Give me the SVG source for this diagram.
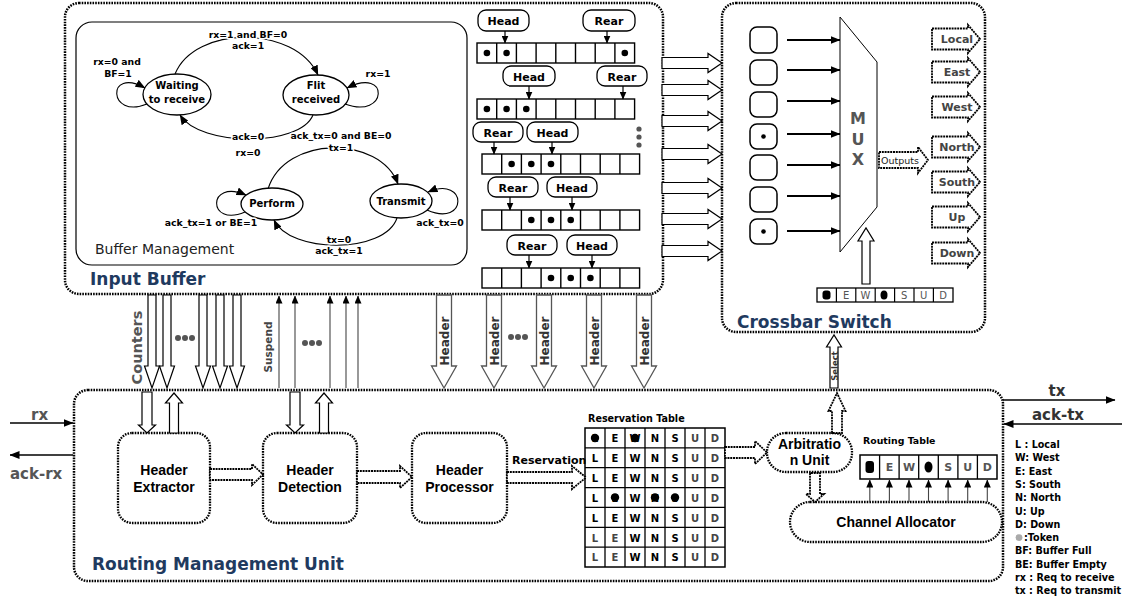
<svg xmlns="http://www.w3.org/2000/svg" width="1131" height="602" viewBox="0 0 1131 602">
<defs>
<style>
text{font-family:"DejaVu Sans","Liberation Sans",sans-serif}
.dot{fill:none;stroke:#000;stroke-width:2.5;stroke-dasharray:1.6 1.1}
.dbox{fill:#fff;stroke:#000;stroke-width:2.3;stroke-dasharray:1.6 1.1}
.harr{fill:#fff;stroke:#000;stroke-width:1.2}
.garr{fill:#fff;stroke:#555;stroke-width:1.3}
.darr{fill:#fff;stroke:#000;stroke-width:1.8;stroke-dasharray:2 0.8}
.ln{fill:none;stroke:#000;stroke-width:1.2}
.gl{fill:none;stroke:#444;stroke-width:1.1}
.title{font-weight:bold;font-size:17px;fill:#1f3a5f}
.sl{font-weight:bold;font-size:9.3px;fill:#000;text-anchor:middle;stroke:#fff;stroke-width:3;paint-order:stroke;stroke-linejoin:round}
.st{font-weight:bold;font-size:10px;text-anchor:middle}
.bx{font-family:"Liberation Sans",Arial,sans-serif;font-weight:bold;font-size:14px;text-anchor:middle}
.hr{font-family:"Liberation Sans",Arial,sans-serif;font-weight:bold;font-size:11px;text-anchor:middle}
.outl{font-weight:bold;font-size:11px;fill:#444;text-anchor:middle}
.leg{font-weight:bold;font-size:9.6px}
.tb{font-weight:bold;font-size:10px;text-anchor:middle;fill:#000}
.lt{fill:#444}
.gd{fill:#555}
</style>
<marker id="ah" markerUnits="userSpaceOnUse" viewBox="0 0 10 8" markerWidth="10" markerHeight="8" refX="9.5" refY="4" orient="auto"><path d="M0,0L10,4L0,8Z"/></marker>
<marker id="ahs" markerUnits="userSpaceOnUse" viewBox="0 0 8 7" markerWidth="8" markerHeight="7" refX="7.5" refY="3.5" orient="auto"><path d="M0,0L8,3.5L0,7Z"/></marker>
<path id="ibx" class="harr" d="M0,-5.5 H46 V-9.5 L60,0 L46,9.5 V5.5 H0 Z"/>
<path id="cnt" class="harr" d="M-4,0 V71 H-7.5 L0,93 L7.5,71 H4 V0 Z"/>
<path id="hdr" class="garr" d="M-7.5,0 V71 H-12.5 L0,93 L12.5,71 H7.5 V0 Z"/>
<path id="outA" class="darr" d="M0,-10.5 H36 V-14 L48,0 L36,14 V10.5 H0 Z"/>
</defs>
<rect width="1131" height="602" fill="#fff"/>

<!-- Input Buffer -->
<g id="input-buffer">
<rect class="dot" x="65" y="3" width="598" height="291" rx="14"/>
<text class="title" x="90" y="285">Input Buffer</text>
</g>

<!-- Buffer management state machine -->
<g id="buffer-management">
<rect x="76" y="22" width="391" height="243" rx="16" fill="#fff" stroke="#000" stroke-width="1.2"/>
<text x="95" y="254" font-size="14" fill="#222">Buffer Management</text>
<g id="fsm-connectors" fill="none" stroke="#000" stroke-width="1.1">
<path d="M175,74 C195,25 295,25 318,75" marker-end="url(#ah)"/>
<path d="M313,115 C300,147 200,147 180,115" marker-end="url(#ah)"/>
<path d="M268,189 C285,135 380,135 398,184" marker-end="url(#ah)"/>
<path d="M397,218 C385,254 290,254 274,220" marker-end="url(#ah)"/>
<path d="M147,104 C108,120 106,66 145,88" marker-end="url(#ah)"/>
<path d="M345,104 C388,120 390,66 347,88" marker-end="url(#ah)"/>
<path d="M245,212 C207,228 207,178 246,195" marker-end="url(#ah)"/>
<path d="M427,210 C468,228 468,175 428,192" marker-end="url(#ah)"/>
</g>
<g id="state-waiting"><ellipse cx="177" cy="94.5" rx="34" ry="20.5" fill="#fff" stroke="#000" stroke-width="1.3"/><text class="st" x="177" y="89">Waiting</text><text class="st" x="177" y="103">to receive</text></g>
<g id="state-flit"><ellipse cx="316" cy="95" rx="33" ry="20" fill="#fff" stroke="#000" stroke-width="1.3"/><text class="st" x="316" y="89">Flit</text><text class="st" x="316" y="103">received</text></g>
<g id="state-perform"><ellipse cx="272" cy="204" rx="31" ry="16" fill="#fff" stroke="#000" stroke-width="1.3"/><text class="st" x="272" y="207">Perform</text></g>
<g id="state-transmit"><ellipse cx="401" cy="201" rx="31" ry="17" fill="#fff" stroke="#000" stroke-width="1.3"/><text class="st" x="401" y="205">Transmit</text></g>
<text class="sl" x="248" y="38">rx=1 and BF=0</text>
<text class="sl" x="248" y="49">ack=1</text>
<text class="sl" x="117" y="65">rx=0 and</text>
<text class="sl" x="118" y="77">BF=1</text>
<text class="sl" x="378" y="77">rx=1</text>
<text class="sl" x="248" y="140">ack=0</text>
<text class="sl" x="248" y="156">rx=0</text>
<text class="sl" x="341" y="139">ack_tx=0 and BE=0</text>
<text class="sl" x="341" y="151">tx=1</text>
<text class="sl" x="211" y="226">ack_tx=1 or BE=1</text>
<text class="sl" x="440" y="226">ack_tx=0</text>
<text class="sl" x="339" y="243">tx=0</text>
<text class="sl" x="339" y="254">ack_tx=1</text>
</g>

<!-- FIFO buffers -->
<g id="fifo-buffers">
<g fill="#fff" stroke="#000" stroke-width="1.4">
<rect x="477" y="43" width="157.6" height="20"/>
<rect x="477" y="99" width="157.6" height="20"/>
<rect x="482" y="154" width="157.6" height="20"/>
<rect x="482" y="210" width="157.6" height="20"/>
<rect x="482" y="268" width="157.6" height="20"/>
<path fill="none" d="M496.7,43v20M516.4,43v20M536.1,43v20M555.8,43v20M575.5,43v20M595.2,43v20M614.9,43v20 M496.7,99v20M516.4,99v20M536.1,99v20M555.8,99v20M575.5,99v20M595.2,99v20M614.9,99v20 M501.7,154v20M521.4,154v20M541.1,154v20M560.8,154v20M580.5,154v20M600.2,154v20M619.9,154v20 M501.7,210v20M521.4,210v20M541.1,210v20M560.8,210v20M580.5,210v20M600.2,210v20M619.9,210v20 M501.7,268v20M521.4,268v20M541.1,268v20M560.8,268v20M580.5,268v20M600.2,268v20M619.9,268v20"/>
</g>
<g fill="#000">
<circle cx="486.9" cy="53" r="3.3"/><circle cx="506.6" cy="53" r="3.3"/><circle cx="624.8" cy="53" r="3.3"/>
<circle cx="486.9" cy="109" r="3.3"/><circle cx="506.6" cy="109" r="3.3"/><circle cx="526.3" cy="109" r="3.3"/>
<circle cx="511.6" cy="164" r="3.3"/><circle cx="531.3" cy="164" r="3.3"/><circle cx="551" cy="164" r="3.3"/>
<circle cx="531.3" cy="220" r="3.3"/><circle cx="551" cy="220" r="3.3"/><circle cx="570.7" cy="220" r="3.3"/>
<circle cx="551" cy="278" r="3.3"/><circle cx="570.7" cy="278" r="3.3"/><circle cx="590.4" cy="278" r="3.3"/>
</g>
<g class="gd"><circle cx="639" cy="129" r="2.6"/><circle cx="639" cy="137" r="2.6"/><circle cx="639" cy="145" r="2.6"/></g>
<g fill="#fff" stroke="#000" stroke-width="1.3">
<rect x="478" y="10" width="51" height="21" rx="8"/><rect x="583" y="10" width="52" height="21" rx="8"/>
<rect x="503" y="66" width="52" height="20" rx="8"/><rect x="597" y="66" width="50" height="20" rx="8"/>
<rect x="473" y="122" width="50" height="20" rx="8"/><rect x="527" y="122" width="51" height="20" rx="8"/>
<rect x="488" y="177" width="50" height="20" rx="8"/><rect x="547" y="177" width="50" height="20" rx="8"/>
<rect x="507" y="235" width="50" height="20" rx="8"/><rect x="567" y="235" width="50" height="20" rx="8"/>
</g>
<g class="hr">
<text x="503.5" y="25">Head</text><text x="609" y="25">Rear</text>
<text x="529" y="80.5">Head</text><text x="622" y="80.5">Rear</text>
<text x="498" y="136.5">Rear</text><text x="552.5" y="136.5">Head</text>
<text x="513" y="191.5">Rear</text><text x="572" y="191.5">Head</text>
<text x="532" y="249.5">Rear</text><text x="592" y="249.5">Head</text>
</g>
<g stroke="#000" stroke-width="1.2" marker-end="url(#ahs)">
<line x1="505" y1="31" x2="505" y2="43"/><line x1="607" y1="31" x2="607" y2="43"/>
<line x1="529" y1="86" x2="529" y2="99"/><line x1="623" y1="86" x2="623" y2="99"/>
<line x1="494" y1="142" x2="494" y2="154"/><line x1="552" y1="142" x2="552" y2="154"/>
<line x1="510" y1="197" x2="510" y2="210"/><line x1="572" y1="197" x2="572" y2="210"/>
<line x1="529" y1="255" x2="529" y2="268"/><line x1="592" y1="255" x2="592" y2="268"/>
</g>
</g>

<!-- Crossbar switch -->
<g id="crossbar-switch">
<rect class="dot" x="722" y="3" width="263" height="329" rx="14"/>
<text class="title" x="737" y="328">Crossbar Switch</text>
<g fill="#fff" stroke="#000" stroke-width="1.5">
<rect x="750" y="27" width="27" height="26" rx="7"/>
<rect x="750" y="60" width="27" height="25" rx="7"/>
<rect x="750" y="92" width="27" height="25" rx="7"/>
<rect x="750" y="124" width="27" height="25" rx="7"/>
<rect x="750" y="155" width="27" height="25" rx="7"/>
<rect x="750" y="187" width="27" height="25" rx="7"/>
<rect x="750" y="219" width="27" height="25" rx="7"/>
</g>
<circle cx="763.5" cy="136.5" r="2.3"/><circle cx="763.5" cy="231.5" r="2.3"/>
<g stroke="#000" stroke-width="1.8" marker-end="url(#ah)">
<line x1="787" y1="40" x2="840" y2="40"/><line x1="787" y1="70" x2="840" y2="70"/>
<line x1="787" y1="101" x2="840" y2="101"/><line x1="787" y1="134" x2="840" y2="134"/>
<line x1="787" y1="165" x2="840" y2="165"/><line x1="787" y1="196" x2="840" y2="196"/>
<line x1="787" y1="231" x2="840" y2="231"/>
</g>
<polygon points="840,17 877,62 877,207 840,252" fill="#fff" stroke="#000" stroke-width="1"/>
<g font-weight="bold" font-size="16" fill="#555" text-anchor="middle"><text x="858" y="124">M</text><text x="858" y="145">U</text><text x="858" y="165">X</text></g>
<path class="darr" stroke-width="1.3" d="M879,152 H918 V147 L928,160 L918,173 V168 H879 Z"/>
<text x="881" y="164" font-size="9.5" fill="#222">Outputs</text>
<use href="#outA" x="932" y="39"/><use href="#outA" x="932" y="72"/><use href="#outA" x="932" y="107"/>
<use href="#outA" x="932" y="147"/><use href="#outA" x="932" y="182"/><use href="#outA" x="932" y="217"/>
<use href="#outA" x="932" y="253"/>
<g class="outl">
<text x="957" y="43">Local</text><text x="957" y="76">East</text><text x="957" y="111">West</text>
<text x="957" y="151">North</text><text x="957" y="186">South</text><text x="957" y="221">Up</text>
<text x="957" y="257">Down</text>
</g>
<path class="harr" d="M862,284 V241 H858 L866,228 L874,241 H870 V284 Z"/>
<g id="select-register">
<rect x="817" y="288" width="136" height="14" fill="#fff" stroke="#000" stroke-width="1.3"/>
<path stroke="#000" stroke-width="1.2" d="M836.4,288v14M855.8,288v14M875.2,288v14M894.6,288v14M914,288v14M933.4,288v14"/>
<rect x="822.5" y="290.5" width="8" height="9" rx="3"/>
<ellipse cx="884" cy="295" rx="3.5" ry="4.5"/>
<g font-size="10" fill="#555" text-anchor="middle"><text x="846.1" y="299">E</text><text x="865.5" y="299">W</text><text x="904.3" y="299">S</text><text x="923.7" y="299">U</text><text x="943.1" y="299">D</text></g>
</g>
</g>

<!-- Routing Management Unit -->
<g id="routing-management-unit">
<rect class="dot" x="74" y="390" width="929" height="191" rx="14"/>
<text class="title" x="92" y="570">Routing Management Unit</text>
</g>

<g id="header-extractor"><rect class="dbox" x="118" y="433" width="92" height="90" rx="14"/><text class="bx" x="164" y="475">Header</text><text class="bx" x="164" y="492">Extractor</text></g>
<g id="header-detection"><rect class="dbox" x="263" y="433" width="94" height="90" rx="14"/><text class="bx" x="310" y="475">Header</text><text class="bx" x="310" y="492">Detection</text></g>
<g id="header-processor"><rect class="dbox" x="412" y="433" width="95" height="90" rx="14"/><text class="bx" x="459.5" y="475">Header</text><text class="bx" x="459.5" y="492">Processor</text></g>

<g id="reservation-table">
<text x="588" y="422" font-weight="bold" font-size="9.6">Reservation Table</text>
<rect x="585" y="428" width="140" height="139" fill="#fff" stroke="#000" stroke-width="1.5"/>
<path stroke="#000" stroke-width="1.3" d="M605,428v139M625,428v139M645,428v139M665,428v139M685,428v139M705,428v139 M585,447.9h140M585,467.7h140M585,487.6h140M585,507.4h140M585,527.3h140M585,547.1h140"/>
<g class="tb">
<text y="442"><tspan x="595 615 635 655 675">LEWNS</tspan><tspan class="lt" x="695 715">UD</tspan></text>
<text y="462"><tspan x="595 615 635 655 675">LEWNS</tspan><tspan class="lt" x="695 715">UD</tspan></text>
<text y="482"><tspan x="595 615 635 655 675">LEWNS</tspan><tspan class="lt" x="695 715">UD</tspan></text>
<text y="502"><tspan x="595 615 635 655 675">LEWNS</tspan><tspan class="lt" x="695 715">UD</tspan></text>
<text y="521.5"><tspan x="595 615 635 655 675">LEWNS</tspan><tspan class="lt" x="695 715">UD</tspan></text>
<text y="541.5"><tspan class="lt" x="595 615">LE</tspan><tspan x="635 655 675">WNS</tspan><tspan class="lt" x="695 715">UD</tspan></text>
<text y="561.3"><tspan class="lt" x="595 615">LE</tspan><tspan x="635 655 675">WNS</tspan><tspan class="lt" x="695 715">UD</tspan></text>
</g>
<circle cx="595" cy="438" r="4.2"/><circle cx="635" cy="438" r="4.2"/>
<circle cx="615" cy="497.5" r="4.2"/><circle cx="655" cy="497.5" r="4.2"/><circle cx="675" cy="497.5" r="4.2"/>
</g>

<g id="arbitration-unit"><rect class="dbox" x="767" y="433" width="85" height="39" rx="19"/><text class="bx" x="809.5" y="449">Arbitratio</text><text class="bx" x="809.5" y="465">n Unit</text></g>

<g id="routing-table">
<text x="863" y="444" font-weight="bold" font-size="9.4">Routing Table</text>
<rect x="860" y="455" width="137" height="24" fill="#fff" stroke="#000" stroke-width="1.5"/>
<path stroke="#000" stroke-width="1.3" d="M879.6,455v24M899.1,455v24M918.7,455v24M938.3,455v24M957.9,455v24M977.4,455v24"/>
<rect x="865.5" y="461" width="8.5" height="12" rx="3"/>
<ellipse cx="928.5" cy="467" rx="4" ry="5.5"/>
<g font-weight="bold" font-size="11" fill="#555" text-anchor="middle"><text x="889.4" y="471">E</text><text x="909" y="471">W</text><text x="948.1" y="471">S</text><text x="967.7" y="471">U</text><text x="987.3" y="471">D</text></g>
</g>

<g id="channel-allocator"><rect class="dbox" x="790" y="502" width="212" height="40" rx="20"/><text class="bx" x="896" y="527">Channel Allocator</text></g>

<!-- Legend -->
<g id="legend" class="leg">
<text x="1015" y="448">L :  Local</text>
<text x="1015" y="461.3">W: West</text>
<text x="1015" y="474.6">E: East</text>
<text x="1015" y="487.9">S: South</text>
<text x="1015" y="501.2">N: North</text>
<text x="1015" y="514.5">U: Up</text>
<text x="1015" y="527.8">D: Down</text>
<circle cx="1019" cy="537.6" r="3.4" fill="#aaa"/>
<text x="1024" y="541.1">:Token</text>
<text x="1015" y="554.4">BF: Buffer Full</text>
<text x="1015" y="567.7">BE: Buffer Empty</text>
<text x="1015" y="581">rx : Req to receive</text>
<text x="1015" y="594.3">tx : Req to transmit</text>
</g>

<!-- Connectors -->
<g id="connectors">
<use href="#ibx" x="662" y="63"/><use href="#ibx" x="662" y="90"/><use href="#ibx" x="662" y="121"/>
<use href="#ibx" x="662" y="154"/><use href="#ibx" x="662" y="188"/><use href="#ibx" x="662" y="219"/>
<use href="#ibx" x="662" y="251"/>
<use href="#cnt" x="152" y="295"/><use href="#cnt" x="167" y="295"/><use href="#cnt" x="203" y="295"/>
<use href="#cnt" x="220" y="295"/><use href="#cnt" x="237" y="295"/>
<text transform="translate(142,347.5) rotate(-90)" font-weight="bold" font-size="14.5" fill="#555" text-anchor="middle">Counters</text>
<g class="gd"><circle cx="178" cy="338" r="3"/><circle cx="185" cy="338" r="3"/><circle cx="192" cy="338" r="3"/></g>
<g class="gl" marker-end="url(#ahs)">
<line x1="279" y1="388" x2="279" y2="296"/><line x1="295" y1="388" x2="295" y2="296"/>
<line x1="330" y1="388" x2="330" y2="296"/><line x1="346" y1="388" x2="346" y2="296"/>
<line x1="358" y1="388" x2="358" y2="296"/>
</g>
<text transform="translate(271.5,347) rotate(-90)" font-weight="bold" font-size="10.5" fill="#444" text-anchor="middle">Suspend</text>
<g class="gd"><circle cx="305" cy="343" r="3"/><circle cx="312" cy="343" r="3"/><circle cx="319" cy="343" r="3"/></g>
<use href="#hdr" x="444" y="295"/><use href="#hdr" x="494" y="295"/><use href="#hdr" x="544" y="295"/>
<use href="#hdr" x="594" y="295"/><use href="#hdr" x="644" y="295"/>
<g font-weight="bold" font-size="12" fill="#333" text-anchor="middle">
<text transform="translate(448.5,341) rotate(-90)">Header</text>
<text transform="translate(498.5,341) rotate(-90)">Header</text>
<text transform="translate(548.5,341) rotate(-90)">Header</text>
<text transform="translate(598.5,341) rotate(-90)">Header</text>
<text transform="translate(648.5,341) rotate(-90)">Header</text>
</g>
<g class="gd"><circle cx="511" cy="337" r="3"/><circle cx="518" cy="337" r="3"/><circle cx="525" cy="337" r="3"/></g>
<path class="harr" d="M142,392 V425 H138.5 L147,433 L155.5,425 H152 V392 Z"/>
<path class="harr" d="M169.5,433 V403 H165.5 L174,393 L182.5,403 H178.5 V433 Z"/>
<path class="harr" d="M290,392 V425 H286.5 L295,433 L303.5,425 H300 V392 Z"/>
<path class="harr" d="M319.5,433 V403 H315.5 L324,393 L332.5,403 H328.5 V433 Z"/>
<path class="darr" d="M210,469 H252 V464 L263,474.5 L252,485 V480 H210 Z"/>
<path class="darr" d="M357,471 H400 V466 L412,477 L400,488 V483 H357 Z"/>
<path class="darr" d="M507,472 H572 V466 L586,477.5 L572,489 V483 H507 Z"/>
<text x="512" y="464" font-weight="bold" font-size="11">Reservation</text>
<path class="darr" d="M725,447 H755 V441 L767,452.5 L755,464 V458 H725 Z"/>
<path class="darr" d="M832,433 V411 H828.5 L837,393 L845.5,411 H842 V433 Z"/>
<path class="harr" d="M830,388 V347 H826.5 L834,335 L841.5,347 H838 V388 Z"/>
<text transform="translate(837.5,366) rotate(-90)" font-weight="bold" font-size="8.5" fill="#333" text-anchor="middle">Select</text>
<path class="darr" d="M810,473 V494 H806 L815,502 L824,494 H820 V473 Z"/>
<g class="gl" marker-end="url(#ahs)">
<line x1="869.8" y1="502" x2="869.8" y2="480"/><line x1="889.4" y1="502" x2="889.4" y2="480"/>
<line x1="909" y1="502" x2="909" y2="480"/><line x1="928.5" y1="502" x2="928.5" y2="480"/>
<line x1="948.1" y1="502" x2="948.1" y2="480"/><line x1="967.7" y1="502" x2="967.7" y2="480"/>
<line x1="987.3" y1="502" x2="987.3" y2="480"/>
</g>
<g stroke="#000" stroke-width="1.6" marker-end="url(#ah)">
<line x1="10" y1="423" x2="73" y2="423"/>
<line x1="73" y1="455" x2="10" y2="455"/>
<line x1="1003" y1="400" x2="1115" y2="400"/>
<line x1="1122" y1="424" x2="1004" y2="424"/>
</g>
<text x="31" y="420" font-weight="bold" font-size="15" fill="#555">rx</text>
<text x="10" y="479" font-weight="bold" font-size="15" fill="#555">ack-rx</text>
<text x="1057" y="396" font-weight="bold" font-size="15" fill="#333" text-anchor="middle">tx</text>
<text x="1058" y="420" font-weight="bold" font-size="15" fill="#333" text-anchor="middle">ack-tx</text>
</g>
</svg>
